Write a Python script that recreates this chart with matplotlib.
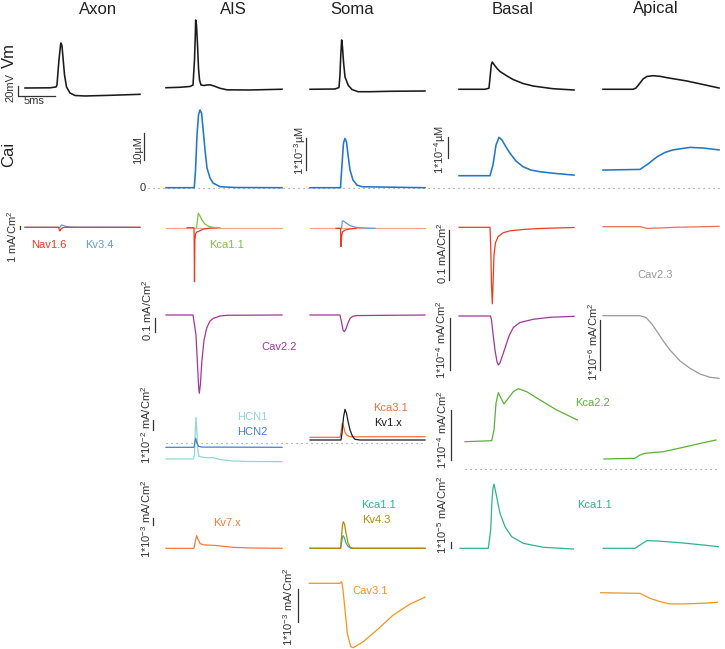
import matplotlib
matplotlib.use("Agg")
import matplotlib.pyplot as plt

plt.rcParams['font.family'] = ['Liberation Sans', 'DejaVu Sans']
plt.rcParams['mathtext.fontset'] = 'custom'
plt.rcParams['mathtext.rm'] = 'Liberation Sans'
plt.rcParams['mathtext.it'] = 'Liberation Sans:italic'
plt.rcParams['mathtext.bf'] = 'Liberation Sans:bold'

# ---------------- data (time in ms, values in panel units) ----------------
columns = ["Axon", "AIS", "Soma", "Basal", "Apical"]

# Vm (mV)
axon_vm_t = [0, 3.38, 4.19, 4.32, 4.59, 4.80, 4.86, 5.0, 5.14, 5.34, 5.61, 6.08, 6.76, 8.11, 11.49, 15.54]
axon_vm_v = [-70.0, -69.6, -67.9, -63.7, -11.1, 20.5, 24.7, 18.4, -6.8, -42.6, -67.9, -80.5, -85.8, -86.8, -85.4, -83.3]
ais_vm_t = [0, 1.89, 3.24, 3.65, 3.85, 3.96, 4.01, 4.12, 4.26, 4.39, 4.53, 4.73, 5.14, 5.54, 5.95, 6.49, 7.30, 8.24, 11.35, 15.68]
ais_vm_v = [-69.4, -68.5, -66.8, -63.7, -11.1, 41.6, 73.2, 62.6, 20.5, -27.9, -53.2, -63.7, -64.7, -63.7, -63.3, -65.8, -70.6, -73.8, -74.2, -72.6]
soma_vm_t = [0, 3.38, 3.92, 4.05, 4.16, 4.28, 4.39, 4.53, 4.73, 5.18, 5.68, 6.49, 8.11, 10.81, 15.54]
soma_vm_v = [-72.7, -72.1, -68.9, -42.6, -0.5, 31.1, 16.3, -15.3, -46.8, -64.7, -73.2, -77.8, -77.8, -76.9, -76.3]
basal_vm_t = [0, 3.51, 4.05, 4.23, 4.36, 4.50, 4.73, 5.14, 5.54, 6.49, 7.30, 8.65, 10.0, 12.70, 15.54]
basal_vm_v = [-72.7, -72.7, -70.5, -42.6, -21.6, -15.3, -20.5, -28.9, -35.3, -44.7, -52.1, -60.5, -65.8, -71.5, -74.2]
apical_vm_t = [0, 4.05, 4.46, 5.0, 5.41, 5.91, 6.76, 7.70, 8.65, 11.35, 13.51, 15.68]
apical_vm_v = [-72.7, -72.7, -70.0, -59.5, -51.1, -45.8, -44.1, -45.4, -48.3, -55.3, -62.6, -70.0]

# Cai
ais_cai_t = [0, 3.82, 3.99, 4.19, 4.39, 4.59, 4.80, 5.0, 5.27, 5.54, 5.95, 6.35, 7.30, 9.32, 15.68]
ais_cai_v = [0, 0, 6.56, 19.5, 26.9, 28.8, 27.7, 22.1, 14.0, 7.3, 3.6, 1.74, 0.37, 0.07, 0]          # uM
soma_cai_t = [0, 4.12, 4.32, 4.53, 4.73, 4.93, 5.14, 5.41, 5.81, 6.35, 7.03, 15.54]
soma_cai_v = [0, 0, 0.71, 1.40, 1.54, 1.43, 1.02, 0.55, 0.24, 0.08, 0.03, 0]                        # x1e-3 uM
basal_cai_t = [0, 4.19, 4.59, 5.0, 5.41, 5.81, 6.35, 6.89, 7.70, 8.65, 9.73, 10.95, 12.97, 15.54]
basal_cai_v = [0.571, 0.571, 1.08, 2.03, 2.40, 2.27, 1.94, 1.64, 1.27, 1.00, 0.84, 0.76, 0.68, 0.60]  # x1e-4 uM
apical_cai_t = [0, 5.0, 6.08, 7.26, 8.38, 9.46, 11.76, 13.51, 15.68]
apical_cai_v = [0.84, 0.87, 1.13, 1.46, 1.68, 1.80, 1.92, 1.89, 1.80]                              # x1e-4 uM

# Nav / Kv3.4 / Kca1.1 (mA/cm2)
axon_nav16_t = [0, 4.53, 4.64, 4.73, 4.86, 5.07, 5.41, 15.54]
axon_nav16_v = [0, 0, -0.9, -1.2, -0.6, -0.2, 0, 0]
axon_kv34_t = [0, 4.73, 4.86, 4.96, 5.14, 5.54, 6.08, 7.03, 15.54]
axon_kv34_v = [0, 0, 0.5, 0.77, 0.6, 0.3, 0.12, 0.03, 0]
ais_nav_bg_t = [0, 15.68]
ais_nav_bg_v = [0, 0]
ais_nav_t = [2.84, 3.78, 3.80, 3.85, 3.90, 4.0, 4.19, 4.46, 5.0, 5.95, 6.89]
ais_nav_v = [0, 0, -3.0, -18.0, -4.0, -2.0, -1.4, -1.2, -0.5, -0.12, 0]
ais_kca11_t = [4.12, 4.26, 4.36, 4.53, 4.86, 5.27, 5.81, 6.49, 7.30]
ais_kca11_v = [0, 2.6, 4.8, 4.2, 2.6, 1.2, 0.4, 0.07, 0]
soma_nav_bg_t = [0, 15.54]
soma_nav_bg_v = [0, 0]
soma_nav_t = [3.51, 4.12, 4.19, 4.28, 4.39, 4.73, 5.41, 6.22]
soma_nav_v = [0, 0, -6.1, -2.5, -1.2, -0.6, -0.2, 0]
soma_kv34_t = [4.26, 4.36, 4.50, 4.86, 5.41, 6.22, 7.43, 8.78]
soma_kv34_v = [0, 2.4, 2.5, 1.8, 0.9, 0.3, 0.1, 0]
basal_nav_t = [0, 4.19, 4.30, 4.39, 4.50, 4.62, 4.73, 4.93, 5.27, 5.95, 6.89, 8.92, 11.62, 15.54]
basal_nav_v = [0, 0, -0.045, -0.115, -0.153, -0.105, -0.055, -0.031, -0.019, -0.011, -0.007, -0.004, -0.002, -0.0004]
apical_nav_t = [0, 5.0, 5.95, 7.70, 9.73, 13.11, 15.68]
apical_nav_v = [0, 0, -0.0034, -0.0026, -0.0012, -0.0002, 0.0008]

# Cav2.2 / Cav2.3
ais_cav22_t = [0, 3.65, 3.85, 4.05, 4.26, 4.42, 4.50, 4.64, 4.86, 5.14, 5.50, 5.95, 6.39, 7.30, 8.24, 15.68]
ais_cav22_v = [0, 0, -0.071, -0.143, -0.357, -0.521, -0.559, -0.500, -0.321, -0.179, -0.093, -0.043, -0.024, -0.007, -0.002, 0]  # mA/cm2
soma_cav22_t = [0, 4.05, 4.26, 4.46, 4.64, 4.86, 5.14, 5.41, 5.81, 6.35, 15.54]
soma_cav22_v = [0, 0, -0.05, -0.107, -0.119, -0.100, -0.057, -0.024, -0.009, -0.004, 0]
basal_cav22_t = [0, 4.26, 4.39, 4.59, 4.86, 5.14, 5.31, 5.54, 5.81, 6.22, 6.76, 7.34, 8.24, 10.04, 12.30, 15.54]
basal_cav22_v = [0, 0, -0.077, -0.327, -0.654, -0.885, -0.942, -0.904, -0.788, -0.615, -0.385, -0.221, -0.125, -0.063, -0.025, -0.006]  # x1e-4
apical_cav23_t = [0, 5.0, 5.81, 6.62, 7.43, 8.24, 9.05, 10.41, 11.76, 13.11, 14.46, 15.68]
apical_cav23_v = [0, 0, -0.036, -0.166, -0.346, -0.526, -0.686, -0.906, -1.052, -1.166, -1.232, -1.252]  # x1e-6

# HCN / Kca3.1 / Kv1.x / Kca2.2
ais_hcn2_t = [0, 3.78, 3.92, 4.01, 4.15, 4.39, 4.86, 15.68]
ais_hcn2_v = [-0.4, -0.4, 0.2, 0.5, 0.1, -0.3, -0.38, -0.4]          # x1e-2
ais_hcn1_t = [0, 3.69, 3.85, 3.96, 4.05, 4.16, 4.30, 4.46, 5.0, 5.68, 6.39, 7.30, 9.05, 11.35, 15.68]
ais_hcn1_v = [-1.57, -1.57, -1.17, 1.33, 2.60, 1.33, -0.67, -1.32, -1.40, -1.45, -1.44, -1.62, -1.77, -1.82, -1.84]
soma_kca31_t = [0, 4.05, 4.22, 4.36, 4.53, 4.73, 4.96, 5.41, 15.54]
soma_kca31_v = [0.6, 0.6, 1.2, 2.0, 1.7, 1.1, 0.83, 0.65, 0.66]
soma_kv1_t = [0, 4.19, 4.32, 4.53, 4.73, 4.93, 5.14, 5.41, 5.74, 6.08, 6.76, 15.54]
soma_kv1_v = [0.33, 0.33, 1.0, 2.6, 3.4, 3.0, 2.2, 1.33, 0.7, 0.4, 0.33, 0.33]
basal_kca22_t = [0.81, 4.42, 4.73, 5.0, 5.31, 5.68, 6.08, 6.66, 7.34, 8.01, 9.15, 10.95, 13.20, 15.99]
basal_kca22_v = [0.552, 0.572, 0.786, 1.32, 1.532, 1.42, 1.306, 1.42, 1.552, 1.612, 1.552, 1.386, 1.186, 0.986]  # x1e-4
apical_kca22_t = [0.14, 4.32, 5.0, 5.68, 8.15, 10.85, 13.55, 15.27]
apical_kca22_v = [0.206, 0.22, 0.286, 0.32, 0.352, 0.44, 0.532, 0.586]

# Kv7.x / Kca1.1 / Kv4.3
ais_kv7_t = [0, 3.78, 3.96, 4.15, 4.32, 4.59, 5.0, 5.95, 6.76, 9.05, 11.35, 15.68]
ais_kv7_v = [0, 0, 1.0, 1.8, 1.3, 0.71, 0.5, 0.45, 0.4, 0.14, 0.05, 0]   # x1e-3
soma_kv43_t = [0, 4.12, 4.28, 4.39, 4.50, 4.66, 4.86, 5.14, 5.41, 5.81, 15.54]
soma_kv43_v = [0, 0, 1.9, 3.33, 3.8, 3.47, 2.19, 0.76, 0.19, 0, 0]
soma_kca11_t = [0, 4.16, 4.26, 4.39, 4.50, 4.66, 4.86, 5.14, 5.54, 15.54]
soma_kca11_v = [0, 0, 0.76, 1.6, 1.8, 1.47, 0.76, 0.26, 0, 0]
basal_kca11_t = [0.14, 3.96, 4.28, 4.46, 4.59, 4.73, 5.09, 5.54, 6.22, 7.12, 8.69, 11.39, 15.45]
basal_kca11_v = [0, 0, 3.05, 8.05, 10.05, 10.7, 8.6, 5.83, 3.6, 1.93, 0.83, 0.17, -0.12]   # x1e-5
apical_kca11_t = [0.04, 4.32, 5.0, 5.91, 7.26, 10.41, 13.55, 15.58]
apical_kca11_v = [0, 0, 0.55, 1.27, 1.22, 0.93, 0.55, 0.27]

# Cav3.1
soma_cav31_t = [-0.09, 4.05, 4.28, 4.46, 4.73, 5.04, 5.50, 5.85, 7.20, 9.01, 11.26, 13.51, 15.54]
soma_cav31_v = [0, 0, 0.05, -0.2, -0.81, -1.52, -1.92, -1.95, -1.77, -1.42, -0.96, -0.63, -0.42]  # x1e-3
apical_cav31_t = [-0.31, 5.0, 6.35, 7.70, 9.05, 10.85, 13.55, 15.45]
apical_cav31_v = [0, -0.02, -0.17, -0.27, -0.34, -0.34, -0.32, -0.29]

# ---------------- colours ----------------
C_VM = '#1a1a1a'; C_CA = '#1f78c8'; C_NAV = '#ee3b1f'; C_NAVBG = '#f6a791'
C_KV34 = '#5d9bd8'; C_KCA11A = '#7cc243'; C_CAV22 = '#a2369d'; C_CAV23 = '#9a9a9a'
C_HCN1 = '#92d6d6'; C_HCN2 = '#3f80d8'; C_KCA31 = '#f3703f'; C_KCA22 = '#5cb133'
C_KV7 = '#f47b3c'; C_KCA11 = '#2fb38a'; C_KV43 = '#b8860b'; C_CAV31 = '#f7931e'
C_APNAV = '#f26d4f'; C_TXT = '#333333'; C_DOT = '#8a8a8a'

# ---------------- layout ----------------
W, H = 725, 649
TPX = 7.4       # px per ms
TSPAN = 15.5
fig = plt.figure(figsize=(W / 100, H / 100), dpi=100)
fig.patch.set_facecolor('white')

COLX = {"Axon": 25, "AIS": 166, "Soma": 310, "Basal": 459, "Apical": 603}

def panel(col, zero_px, ppu, half=45):
    x0 = COLX[col]
    top, bot = zero_px - half, zero_px + half
    ax = fig.add_axes([x0 / W, 1 - bot / H, TSPAN * TPX / W, (bot - top) / H])
    ax.set_xlim(0, TSPAN)
    ax.set_ylim((zero_px - bot) / ppu, (zero_px - top) / ppu)
    ax.axis('off')
    return ax

def tr(ax, t, v, c, lw=0.9, z=2):
    ax.plot(t, v, color=c, lw=lw, clip_on=False, zorder=z, solid_joinstyle='round')

def sbar(ax, tx, vb, length, lw=0.9):
    ax.plot([tx, tx], [vb, vb + length], color=C_TXT, lw=lw, clip_on=False)

def ftext(x, y, s, rot=0, size=8, color=C_TXT, **kw):
    fig.text(x / W, 1 - y / H, s, rotation=rot, ha='center', va='center',
             fontsize=size, color=color, **kw)

# titles & row labels
for name, xc in zip(columns, [98, 233, 352, 513, 656]):
    fig.text(xc / W, 1 - 13.5 / H, name, ha='center', va='baseline', fontsize=12, color='#222222')
ftext(9, 55, 'Vm', rot=90, size=12, color='#222222')
ftext(9, 154, 'Cai', rot=90, size=12, color='#222222')

# ---- Row 1: Vm ----
VM_ZERO, VM_PPU = 54.75, 0.475
for col, t, v in [("Axon", axon_vm_t, axon_vm_v), ("AIS", ais_vm_t, ais_vm_v),
                  ("Soma", soma_vm_t, soma_vm_v), ("Basal", basal_vm_t, basal_vm_v),
                  ("Apical", apical_vm_t, apical_vm_v)]:
    ax = panel(col, VM_ZERO, VM_PPU)
    tr(ax, t, v, C_VM, lw=1.15)
    if col == "Axon":
        ax.plot([-0.95, -0.95, 4.05], [-66.2, -86.2, -86.2], color=C_TXT, lw=0.9, clip_on=False)
ftext(10, 87, '20mV', rot=90)
ftext(34.5, 101, '5ms')

# ---- Row 2: Cai ----
ax = panel("AIS", 187.7, 2.7)
ax.axhline(0, xmin=(148 - 166) / (TSPAN * TPX), xmax=(720 - 166) / (TSPAN * TPX),
           color=C_DOT, lw=0.8, ls=(0, (1, 3.5)), clip_on=False, zorder=1)
tr(ax, ais_cai_t, ais_cai_v, C_CA, lw=1.15)
sbar(ax, -2.97, 10.26, 10)
ftext(138, 150, '10µM', rot=90)
ftext(143, 188, '0')
ax = panel("Soma", 187.7, 32)
tr(ax, soma_cai_t, soma_cai_v, C_CA, lw=1.15)
sbar(ax, -0.54, 0.553, 1)
ftext(300, 151, r'1*10$^{-3}$µM', rot=90)
ax = panel("Basal", 187.7, 21)
tr(ax, basal_cai_t, basal_cai_v, C_CA, lw=1.15)
sbar(ax, -1.49, 1.414, 1)
ftext(440, 150, r'1*10$^{-4}$µM', rot=90)
ax = panel("Apical", 187.7, 21)
tr(ax, apical_cai_t, apical_cai_v, C_CA, lw=1.15)

# ---- Row 3 ----
ax = panel("Axon", 227.3, 3)
tr(ax, axon_kv34_t, axon_kv34_v, C_KV34)
tr(ax, axon_nav16_t, axon_nav16_v, C_NAV, z=3)
sbar(ax, -0.68, -0.73, 1)
ftext(12, 237, r'1 mA/Cm$^{2}$', rot=90)
ftext(49, 245, 'Nav1.6', color=C_NAV)
ftext(99, 245, 'Kv3.4', color=C_KV34)

ax = panel("AIS", 227.7, 3)
tr(ax, ais_nav_bg_t, ais_nav_bg_v, C_NAVBG)
tr(ax, ais_nav_t, ais_nav_v, C_NAV, z=3)
tr(ax, ais_kca11_t, ais_kca11_v, C_KCA11A, z=3)
ftext(226.5, 245, 'Kca1.1', color=C_KCA11A)

ax = panel("Soma", 228.3, 3)
tr(ax, soma_nav_bg_t, soma_nav_bg_v, C_NAVBG)
tr(ax, soma_kv34_t, soma_kv34_v, C_KV34, z=3)
tr(ax, soma_nav_t, soma_nav_v, C_NAV, z=3)

ax = panel("Basal", 227.3, 500)
tr(ax, basal_nav_t, basal_nav_v, C_NAV)
sbar(ax, -1.35, -0.105, 0.1)
ftext(442, 253, r'0.1 mA/Cm$^{2}$', rot=90)

ax = panel("Apical", 226.7, 500)
tr(ax, apical_nav_t, apical_nav_v, C_APNAV)
ftext(655.5, 275, 'Cav2.3', color=C_CAV23)

# ---- Row 4 ----
ax = panel("AIS", 315, 140)
tr(ax, ais_cav22_t, ais_cav22_v, C_CAV22)
sbar(ax, -1.49, -0.121, 0.1)
ftext(147, 310, r'0.1 mA/Cm$^{2}$', rot=90)
ftext(279, 347, 'Cav2.2', color=C_CAV22)

ax = panel("Soma", 315, 140)
tr(ax, soma_cav22_t, soma_cav22_v, C_CAV22)

ax = panel("Basal", 316, 52)
tr(ax, basal_cav22_t, basal_cav22_v, C_CAV22)
sbar(ax, -1.22, -1.04, 1)
ftext(441, 340, r'1*10$^{-4}$ mA/Cm$^{2}$', rot=90)

ax = panel("Apical", 315.7, 50)
tr(ax, apical_cav23_t, apical_cav23_v, C_CAV23)
sbar(ax, -0.41, -1.086, 1)
ftext(593, 342, r'1*10$^{-6}$ mA/Cm$^{2}$', rot=90)

# ---- Row 5 ----
ax = panel("AIS", 443.3, 10)
ax.axhline(0, xmin=(166 - 166) / (TSPAN * TPX), xmax=(425 - 166) / (TSPAN * TPX),
           color=C_DOT, lw=0.8, ls=(0, (1, 3.5)), clip_on=False, zorder=1)
tr(ax, ais_hcn1_t, ais_hcn1_v, C_HCN1)
tr(ax, ais_hcn2_t, ais_hcn2_v, C_HCN2)
sbar(ax, -1.76, 1.33, 1)
ftext(146, 425, r'1*10$^{-2}$ mA/Cm$^{2}$', rot=90)
ftext(252, 417, 'HCN1', color=C_HCN1)
ftext(252, 432, 'HCN2', color=C_HCN2)

ax = panel("Soma", 443.3, 10)
tr(ax, soma_kca31_t, soma_kca31_v, C_KCA31)
tr(ax, soma_kv1_t, soma_kv1_v, C_VM)
ftext(390, 408, 'Kca3.1', color=C_KCA31)
ftext(388, 423, 'Kv1.x', color=C_VM)

ax = panel("Basal", 469.3, 50)
ax.axhline(0, xmin=(465 - 459) / (TSPAN * TPX), xmax=(720 - 459) / (TSPAN * TPX),
           color=C_DOT, lw=0.8, ls=(0, (1, 3.5)), clip_on=False, zorder=1)
tr(ax, basal_kca22_t, basal_kca22_v, C_KCA22)
sbar(ax, -1.08, 0.186, 1)
ftext(442, 430, r'1*10$^{-4}$ mA/Cm$^{2}$', rot=90)
ftext(592, 403, 'Kca2.2', color=C_KCA22)

ax = panel("Apical", 469.3, 50)
tr(ax, apical_kca22_t, apical_kca22_v, C_KCA22)

# ---- Row 6 ----
ax = panel("AIS", 548.3, 7)
tr(ax, ais_kv7_t, ais_kv7_v, C_KV7)
sbar(ax, -1.76, 3.33, 1)
ftext(146, 519, r'1*10$^{-3}$ mA/Cm$^{2}$', rot=90)
ftext(227, 522.7, 'Kv7.x', color=C_KV7)

ax = panel("Soma", 548.3, 7)
tr(ax, soma_kca11_t, soma_kca11_v, C_KCA11)
tr(ax, soma_kv43_t, soma_kv43_v, C_KV43)
ftext(378.5, 505, 'Kca1.1', color=C_KCA11)
ftext(376.5, 520, 'Kv4.3', color=C_KV43)

ax = panel("Basal", 548.3, 6)
tr(ax, basal_kca11_t, basal_kca11_v, C_KCA11)
sbar(ax, -1.08, 0.05, 1)
ftext(442, 515, r'1*10$^{-5}$ mA/Cm$^{2}$', rot=90)
ftext(595, 505, 'Kca1.1', color=C_KCA11)

ax = panel("Apical", 548.3, 6)
tr(ax, apical_kca11_t, apical_kca11_v, C_KCA11)

# ---- Row 7 ----
ax = panel("Soma", 583.3, 33)
tr(ax, soma_cav31_t, soma_cav31_v, C_CAV31)
sbar(ax, -1.62, -1.17, 1)
ftext(288, 607, r'1*10$^{-3}$ mA/Cm$^{2}$', rot=90)
ftext(370, 590.7, 'Cav3.1', color=C_CAV31)

ax = panel("Apical", 592.7, 33)
tr(ax, apical_cav31_t, apical_cav31_v, C_CAV31)

fig.savefig('out.png', dpi=100, facecolor='white')
